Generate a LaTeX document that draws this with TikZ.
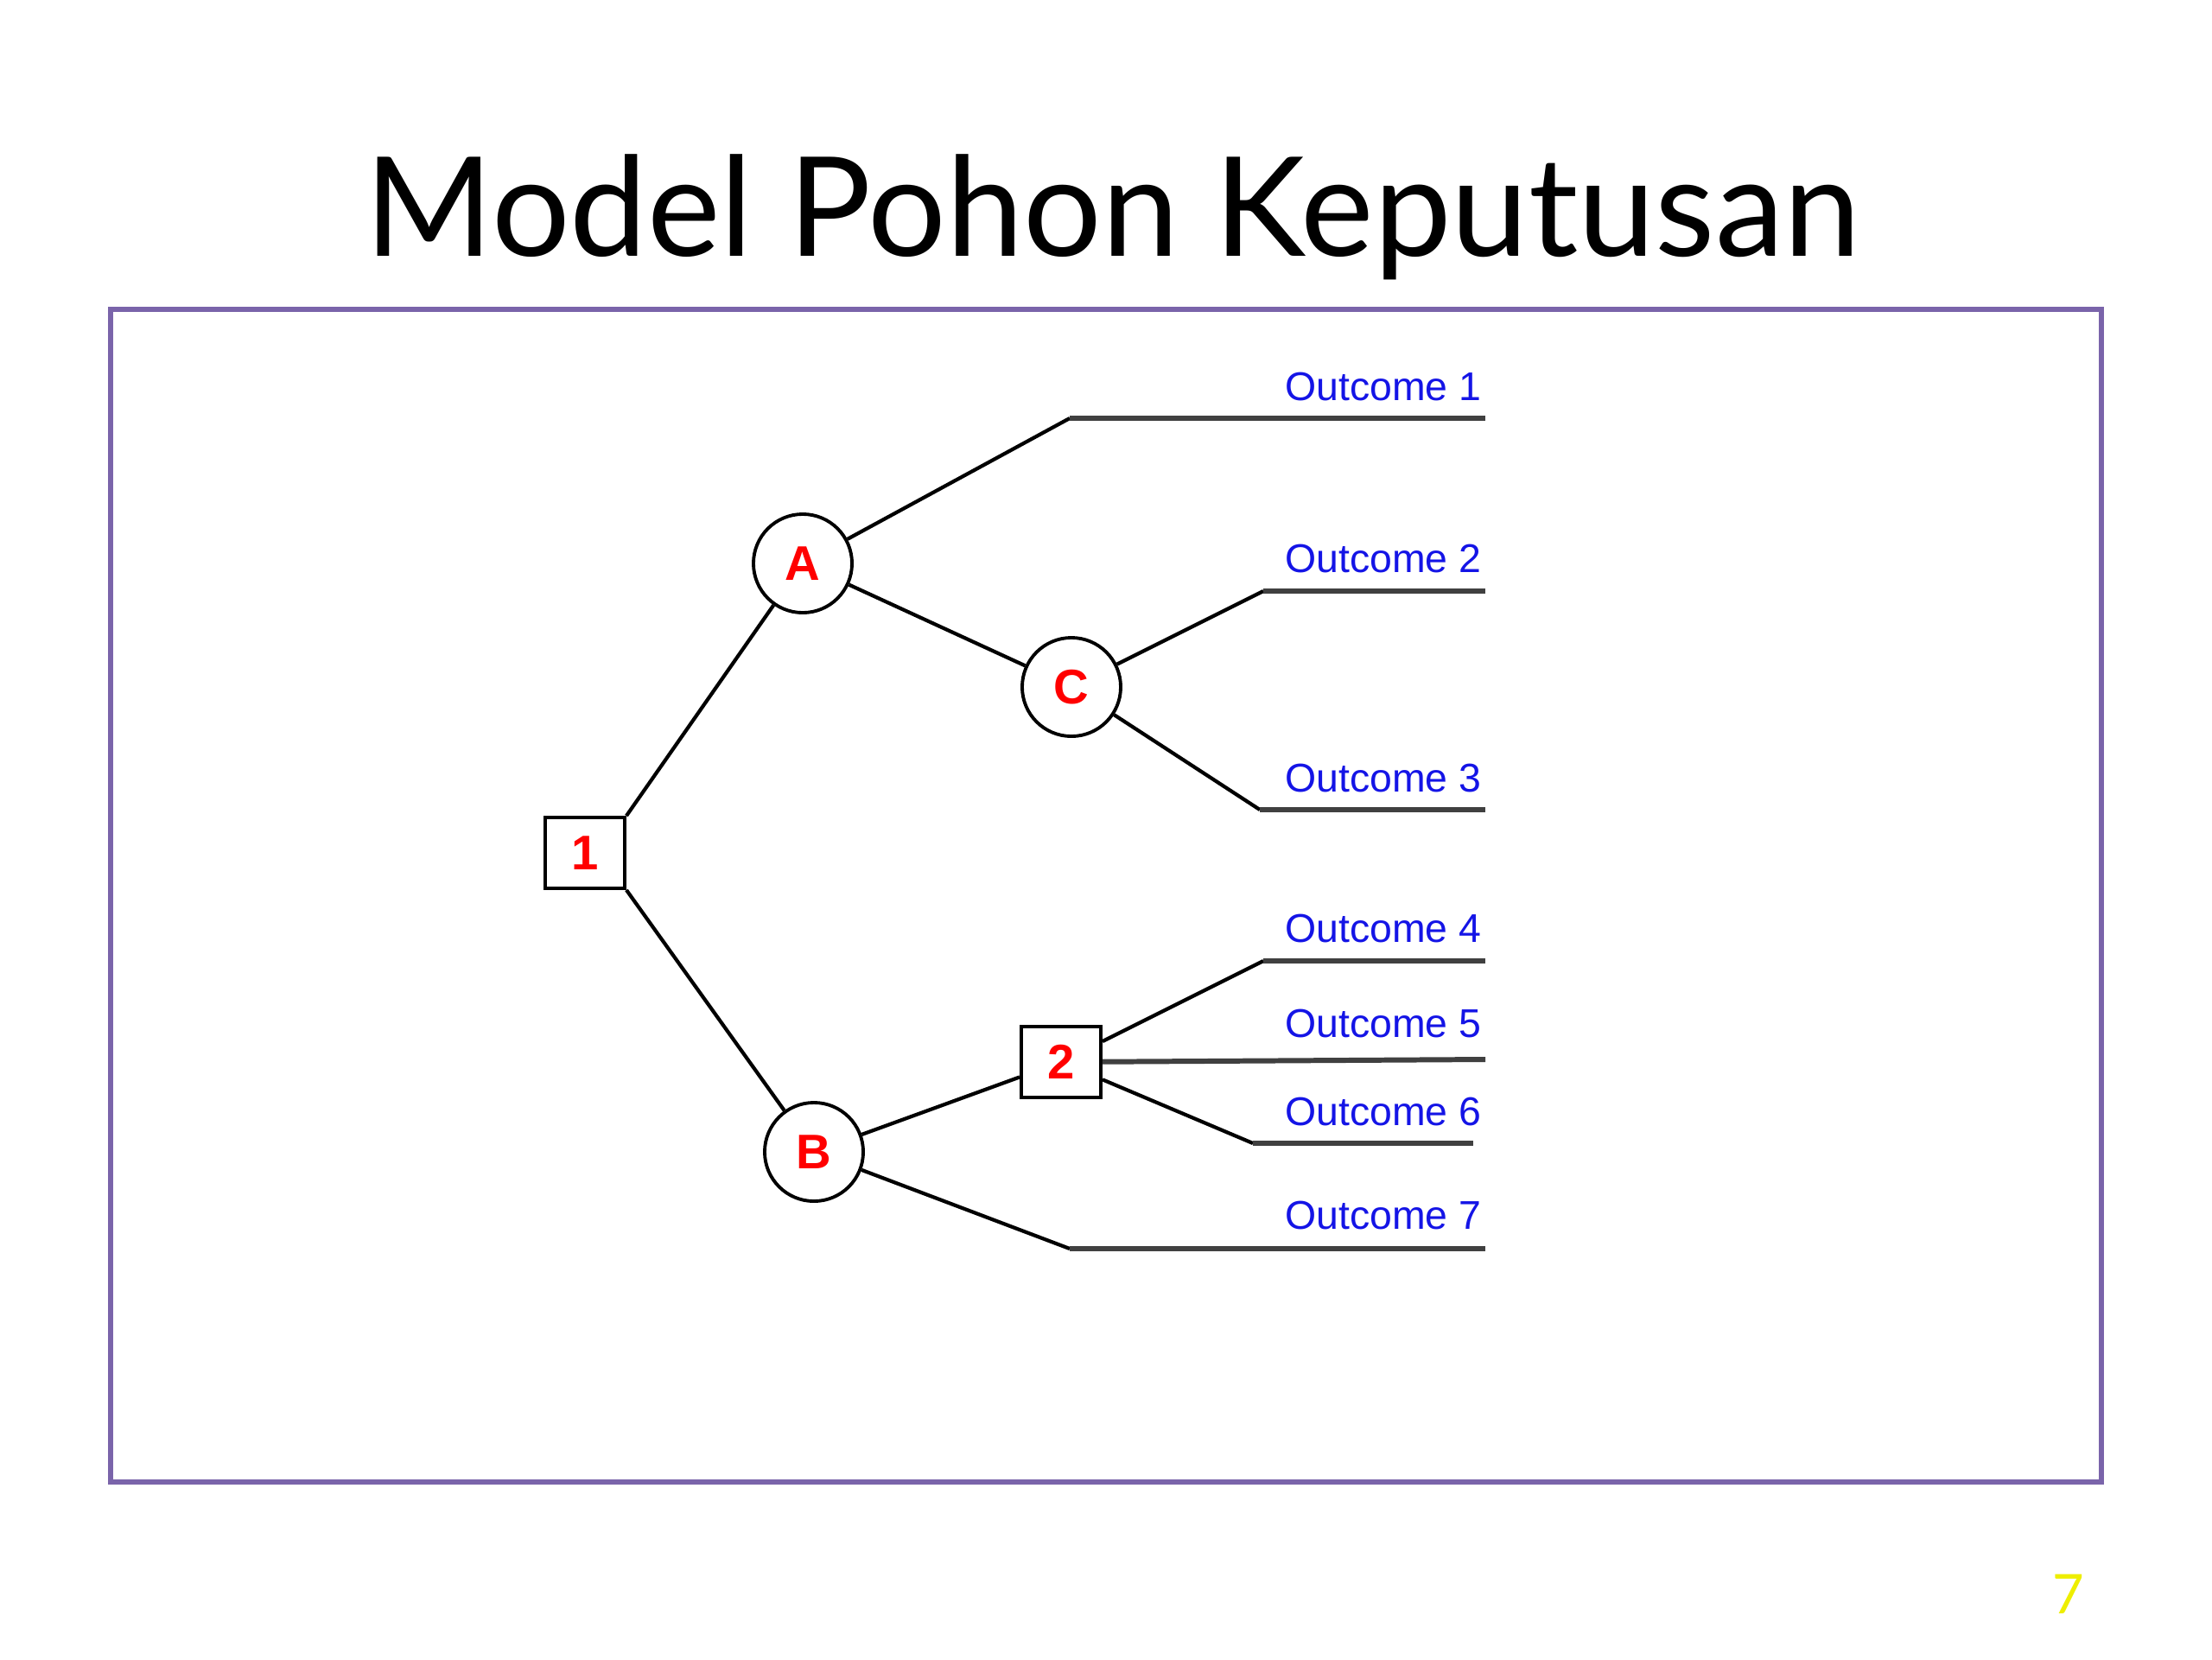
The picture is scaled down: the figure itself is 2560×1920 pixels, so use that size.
\documentclass[tikz,border=0pt]{standalone}
\usepackage{fontspec}
\setmainfont{Liberation Sans}
\newfontfamily\titlefont{Lato}
\usetikzlibrary{positioning}
\definecolor{framepurple}{RGB}{122,100,170}
\definecolor{outblue}{RGB}{20,20,230}
\definecolor{pageyellow}{RGB}{238,238,0}

\begin{document}
\begin{tikzpicture}[x=0.01cm,y=-0.01cm,
    chance/.style={draw,circle,line width=1.1pt,minimum size=1.14cm,inner sep=0pt,font=\fontsize{16}{16}\selectfont\bfseries,text=red},
    decision/.style={draw,rectangle,line width=1.1pt,minimum width=0.92cm,minimum height=0.82cm,inner sep=0pt,font=\fontsize{16}{16}\selectfont\bfseries,text=red},
    branch/.style={line width=1.2pt},
    payoff/.style={line width=1.7pt,draw=black!75},
    outlabel/.style={anchor=base east,inner sep=0pt,text=outblue,font=\fontsize{13.2}{13.2}\selectfont}
  ]
    \useasboundingbox (0,0) rectangle (2560,1920);

    % Title and frame
    \node[font=\titlefont\fontsize{45.5}{45.5}\selectfont,anchor=base] (title) at (1288,296) {Model Pohon Keputusan};
    \draw[framepurple,line width=1.5pt] (128,358) rectangle (2432,1715);

    % Decision and chance nodes
    \node[decision] (d1) at (677,987) {1};
    \node[chance] (A) at (929,652) {A};
    \node[chance] (C) at (1240,795) {C};
    \node[chance] (B) at (942,1333) {B};
    \node[decision] (d2) at (1228,1229) {2};

    % Start and end points of the outcome lines
    \coordinate (o1s) at (1238,484);
    \coordinate (o1e) at (1719,484);
    \coordinate (o2s) at (1462,684);
    \coordinate (o2e) at (1719,684);
    \coordinate (o3s) at (1458,937);
    \coordinate (o3e) at (1719,937);
    \coordinate (o4s) at (1462,1112);
    \coordinate (o4e) at (1719,1112);
    \coordinate (o5e) at (1719,1226);
    \coordinate (o6s) at (1450,1323);
    \coordinate (o6e) at (1705,1323);
    \coordinate (o7s) at (1238,1445);
    \coordinate (o7e) at (1719,1445);

    % Branches
    \draw[branch] (d1.north east) -- (A);
    \draw[branch] (d1.south east) -- (B);
    \draw[branch] (A) -- (o1s);
    \draw[branch] (A) -- (C);
    \draw[branch] (C) -- (o2s);
    \draw[branch] (C) -- (o3s);
    \draw[branch] (B) -- (d2);
    \draw[branch] (d2) -- (o4s);
    \draw[branch] (d2) -- (o6s);
    \draw[branch] (B) -- (o7s);

    % Outcome lines
    \draw[payoff] (o1s) -- (o1e);
    \draw[payoff] (o2s) -- (o2e);
    \draw[payoff] (o3s) -- (o3e);
    \draw[payoff] (o4s) -- (o4e);
    \draw[payoff] (d2) -- (o5e);
    \draw[payoff] (o6s) -- (o6e);
    \draw[payoff] (o7s) -- (o7e);

    % Outcome labels
    \node[outlabel] (l1) at (1715,463) {Outcome 1};
    \node[outlabel] (l2) at (1715,662) {Outcome 2};
    \node[outlabel] (l3) at (1715,916) {Outcome 3};
    \node[outlabel] (l4) at (1715,1090) {Outcome 4};
    \node[outlabel] (l5) at (1715,1200) {Outcome 5};
    \node[outlabel] (l6) at (1715,1302) {Outcome 6};
    \node[outlabel] (l7) at (1715,1422) {Outcome 7};

    % Page number
    \node[font=\titlefont\fontsize{18}{18}\selectfont,text=pageyellow] (pnum) at (2394,1845) {7};
\end{tikzpicture}
\end{document}
